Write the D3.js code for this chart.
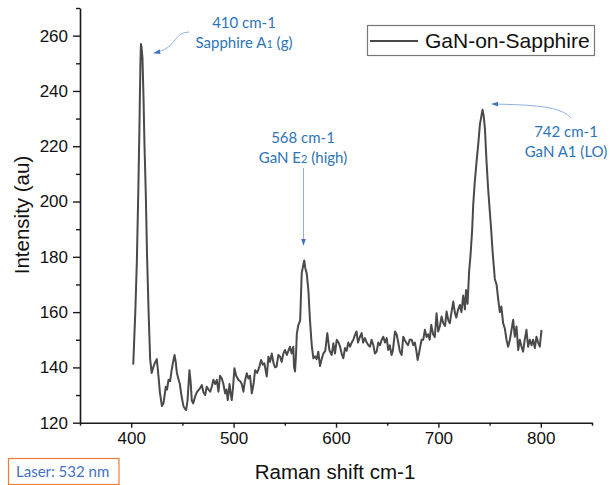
<!DOCTYPE html>
<html>
<head>
<meta charset="utf-8">
<script src="https://cdn.jsdelivr.net/npm/d3@7"></script>
<style>
  html, body { margin: 0; padding: 0; background: #fff; }
  svg { display: block; }
</style>
</head>
<body>
<svg id="chart" width="610" height="485"></svg>
<script>
// ---------- data ----------
const ramanShift = [
  402,404,405.5,407,408,409,409.5,410,411,412,413,414.3,415.5,417,418.5,420,421.5,423,425,426.6,
  428,430,431.5,433.8,435,436.4,438,439.5,440.7,442.3,443.5,444.6,446,447.5,449,451,452.5,453.7,455,456.9,
  458,459.2,460.5,462.4,464,465.7,467.3,469,470.5,472.2,473.8,475.5,477.1,478.7,480.3,482,483.6,485.2,486.8,488.5,
  490,491.7,493,494.3,496,497,498.2,499.5,500.8,502.5,504.7,506.5,508,509.6,511,512.9,514.5,516,517.8,519.5,
  521,523,525,526.8,528.5,530,532.4,534,535.6,537.3,539,540.5,542,543.7,545.4,547,548.6,550.2,552,553.5,
  555.1,556.7,558.3,559,560,561,561.7,563,565,566.5,568,569,570,571.4,573,574.6,576.3,577.9,579.5,581.2,
  582.7,584.4,586,587.6,589.5,591.5,593.5,595.8,597.4,599,600.7,602.5,604,605.5,607.1,608.8,610.4,612,613.7,615.3,
  616.9,618.5,620,621.5,623.3,625,626.5,628.3,630,631.5,633.2,634.8,636.5,638,639.7,641.3,643,644.6,646.2,647.8,
  649.5,651,652.5,654.3,655.5,657.6,659.2,660.8,662.4,664.1,665.7,667,668.5,670.3,672,673.9,675.5,677,678.5,679.7,
  681,682.5,683.6,685.2,686.8,688.5,690,691.5,693,694.8,696.5,698.2,699.8,701.5,703.1,704.8,706.5,708,709.7,711.2,
  712.8,714.5,716,717.5,719.3,721,722.5,724.2,725.9,727,728.5,730,731.4,733,734,735.5,737.3,739,740.5,742,
  743.1,744.2,745.4,747,748.5,750.2,751.5,752.9,754,755.1,756.8,758.3,760,761.5,763.2,764.9,766.5,768.1,769.8,771.4,
  773,774.6,776.3,777.9,779.5,781.2,782.7,784.3,786,787.6,789.3,791,792.5,794.2,795.8,797.4,799,800.7
];
const intensity = [
  141,160,178,205,226,250,257,256,252,238,220,202,180,160,143,138,140,141.5,143,137,
  131,126,127,133,132,135.5,135,139,141.5,144.5,142,138,136,134,130,126,125,124.6,128,139,
  135,128,127,129.4,131,131.8,132.5,133.6,131,130,133,132,131.2,133,135.5,134,135.5,131.2,137,136,
  134,130.6,132,128.2,134,131,128.2,133,139.7,137,135.5,135,134,131.2,135,137.9,136,137,130.6,134,
  139,138,140,142.7,141,141.5,136.7,143.9,142,145,141.5,140,140.3,144.5,143.9,142,145,146.3,144.5,146,
  147.5,145,147.5,140.3,138.5,145,152,155,157,174,177,178.7,176,174,168,157,148,143.3,144,143,
  145.7,140.5,143,145,146,152.4,146.3,144.5,148.7,145,150,149,147.5,145,143.3,147,146,149,147.5,149,
  150,151.7,153,149,151,152.4,149,150.6,149,148.1,147.5,150,148,145,145.7,149,148,150,151.1,149,
  150.6,146.3,148,144.5,146,153,152,149,145.7,144.5,151.1,150,149,148,150,150,148,149,146,142.7,
  145,148,150,150,153.6,151,152,150,155.4,152,151,159.6,153,155,158.4,156,155,160.2,157,156,
  160,163.8,160,158,161,162.6,160,166,161,168,163,174.7,180.7,190,198.8,207,214.5,221,227.8,231,
  233.2,231,226.6,214.5,205,196.4,190,182,177,172,170,165,160,162,156,154,150,147.5,150,153.6,
  157.2,151.1,154.8,146.3,150,147.5,145.7,150,153.6,147.5,150,148,150,147,151.1,149,147.5,153.6
];
const xTicks = [400, 500, 600, 700, 800];
const yTicks = [120, 140, 160, 180, 200, 220, 240, 260];
const xDomain = [350, 850];
const yDomain = [120, 270];
const seriesName = "GaN-on-Sapphire";
const xTitle = "Raman shift cm-1";
const yTitle = "Intensity (au)";
const laserNote = "Laser: 532 nm";

// ---------- layout ----------
const svg = d3.select("#chart");
const plotL = 80, plotR = 592, plotT = 8, plotB = 422.7;
const x = d3.scaleLinear().domain(xDomain).range([plotL, plotR]);
const y = d3.scaleLinear().domain(yDomain).range([plotB, plotT]);
const axisColor = "#1a1a1a";
const tickFont = "Liberation Sans, Arial, sans-serif";

// minor ticks
const xMinor = d3.range(350, 851, 50).filter(v => !xTicks.includes(v));
const yMinor = d3.range(120, 271, 10).filter(v => !yTicks.includes(v));

// X axis
const gx = svg.append("g").attr("transform", `translate(0,${plotB})`);
gx.call(d3.axisBottom(x).tickValues(xTicks).tickSize(5).tickPadding(4).tickSizeOuter(0));
gx.append("g").call(d3.axisBottom(x).tickValues(xMinor).tickSize(3).tickFormat("").tickSizeOuter(0))
  .select(".domain").remove();
// Y axis
const gy = svg.append("g").attr("transform", `translate(${plotL},0)`);
gy.call(d3.axisLeft(y).tickValues(yTicks).tickSize(7).tickPadding(5).tickSizeOuter(0));
gy.append("g").call(d3.axisLeft(y).tickValues(yMinor).tickSize(4).tickFormat("").tickSizeOuter(0))
  .select(".domain").remove();

svg.selectAll(".domain").attr("stroke", axisColor).attr("stroke-width", 1.6);
svg.selectAll(".tick line").attr("stroke", axisColor).attr("stroke-width", 1.4);
svg.selectAll(".tick text").attr("font-family", tickFont).attr("font-size", 17).attr("fill", "#111");

// axis titles
svg.append("text").attr("x", 335).attr("y", 479).attr("text-anchor", "middle")
  .attr("font-family", tickFont).attr("font-size", 20.5).attr("fill", "#111").text(xTitle);
svg.append("text").attr("transform", "translate(29,215) rotate(-90)").attr("text-anchor", "middle")
  .attr("font-family", tickFont).attr("font-size", 20.5).attr("fill", "#111").text(yTitle);

// series line
const data = ramanShift.map((v, i) => [v, intensity[i]]);
svg.append("path").datum(data)
  .attr("fill", "none").attr("stroke", "#4a4a4a").attr("stroke-width", 2)
  .attr("stroke-linejoin", "round")
  .attr("d", d3.line().x(d => x(d[0])).y(d => y(d[1])));

// legend
svg.append("rect").attr("x", 367.5).attr("y", 25.5).attr("width", 227).attr("height", 30)
  .attr("fill", "#fff").attr("stroke", "#777").attr("stroke-width", 1.2);
svg.append("line").attr("x1", 370).attr("x2", 418).attr("y1", 41).attr("y2", 41)
  .attr("stroke", "#4a4a4a").attr("stroke-width", 2);
svg.append("text").attr("x", 425).attr("y", 48).attr("font-family", tickFont)
  .attr("font-size", 21).attr("fill", "#111").text(seriesName);

// annotations
const annColor = "#2E75B6";
const annFont = "Lato, 'Open Sans', sans-serif";
const defs = svg.append("defs");
defs.append("marker").attr("id", "ah").attr("viewBox", "0 0 10 10").attr("refX", 9).attr("refY", 5)
  .attr("markerWidth", 7).attr("markerHeight", 7).attr("orient", "auto-start-reverse")
  .append("path").attr("d", "M0,1.5 L10,5 L0,8.5 Z").attr("fill", "#4472C4");

function ann(cx, yb, lines) {
  lines.forEach((parts, i) => {
    const t = svg.append("text").attr("x", cx).attr("y", yb + i * 19.5).attr("text-anchor", "middle")
      .attr("font-family", annFont).attr("font-size", 15).attr("fill", annColor);
    parts.forEach(p => {
      const s = t.append("tspan").text(p.t);
      if (p.small) s.attr("font-size", 11);
    });
  });
}
ann(244, 28, [[{t: "410 cm-1"}], [{t: "Sapphire A"}, {t: "1", small: true}, {t: " (g)"}]]);
ann(303, 143, [[{t: "568 cm-1"}], [{t: "GaN E"}, {t: "2", small: true}, {t: " (high)"}]]);
ann(566, 137, [[{t: "742 cm-1"}], [{t: "GaN A1 (LO)"}]]);

const arrows = [
  "M189,32 C172,33 178,48 154,53",
  "M303.5,168 L303.5,245",
  "M571,118 C560,106 535,105 492,104"
];
arrows.forEach(d => svg.append("path").attr("d", d).attr("fill", "none")
  .attr("stroke", "#8fb0e0").attr("stroke-width", 1).attr("marker-end", "url(#ah)"));

// laser note
svg.append("rect").attr("x", 8.5).attr("y", 458.5).attr("width", 110.5).attr("height", 26)
  .attr("fill", "#fff").attr("stroke", "#ED7D31").attr("stroke-width", 1.2);
svg.append("text").attr("x", 16).attr("y", 477).attr("font-family", annFont)
  .attr("font-size", 15).attr("fill", "#4472C4").text(laserNote);
</script>
</body>
</html>
